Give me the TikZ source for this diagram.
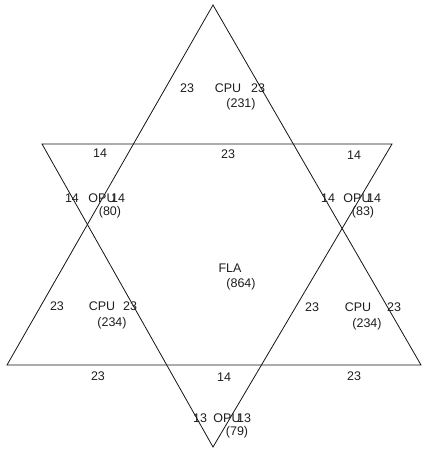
\documentclass[tikz,border=0pt]{standalone}
\usepackage{fontspec}
\setmainfont{Liberation Sans}
\usepackage{xcolor}
\usepackage{tikz}
\usetikzlibrary{positioning}
\definecolor{stedge}{RGB}{20,20,20}
\definecolor{stink}{RGB}{30,30,30}
\tikzset{
  tri/.style={draw=stedge, line width=0.8pt, line join=miter},
  lbl/.style={inner sep=0pt, text=stink, font=\fontsize{12.5}{14}\selectfont},
  every picture/.append style={x=1pt, y=-1pt}
}

\begin{document}
\begin{tikzpicture}
  \useasboundingbox (0,0) rectangle (422,449);
  % corners of the two triangles
  \coordinate (upTop) at (213,5);
  \coordinate (upLeft) at (7,365);
  \coordinate (upRight) at (421,365);
  \coordinate (dnLeft) at (42,144);
  \coordinate (dnRight) at (392,144);
  \coordinate (dnBot) at (213,447);
  \draw[tri] (upTop) -- (upLeft) -- (upRight) -- cycle;
  \draw[tri] (dnLeft) -- (dnRight) -- (dnBot) -- cycle;

  % top point
  \node[lbl] (topW) at (187,88) {23};
  \node[lbl] (topName) at (228,88) {CPU};
  \node[lbl] (topE) at (258,88) {23};
  \node[lbl] (topVal) at (241,104) {(231)};

  % upper edge
  \node[lbl] (edgeTL) at (100,153) {14};
  \node[lbl] (edgeTM) at (228,154) {23};
  \node[lbl] (edgeTR) at (354,155) {14};

  % left point
  \node[lbl] (leftW) at (72,198) {14};
  \node[lbl] (leftName) at (102,198) {OPU};
  \node[lbl] (leftE) at (118,198) {14};
  \node[lbl] (leftVal) at (110,212) {(80)};

  % right point
  \node[lbl] (rightW) at (328,198) {14};
  \node[lbl] (rightName) at (357,198) {OPU};
  \node[lbl] (rightE) at (374,198) {14};
  \node[lbl] (rightVal) at (363,212) {(83)};

  % centre
  \node[lbl] (midName) at (230,268) {FLA};
  \node[lbl] (midVal) at (241,284) {(864)};

  % lower left point
  \node[lbl] (lowLW) at (57,306) {23};
  \node[lbl] (lowLName) at (102,306) {CPU};
  \node[lbl] (lowLE) at (130,306) {23};
  \node[lbl] (lowLVal) at (112,323) {(234)};

  % lower right point
  \node[lbl] (lowRW) at (312,307) {23};
  \node[lbl] (lowRName) at (358,307) {CPU};
  \node[lbl] (lowRE) at (394,307) {23};
  \node[lbl] (lowRVal) at (367,324) {(234)};

  % lower edge
  \node[lbl] (edgeBL) at (98,376) {23};
  \node[lbl] (edgeBM) at (224,377) {14};
  \node[lbl] (edgeBR) at (354,376) {23};

  % bottom point
  \node[lbl] (botW) at (200,418) {13};
  \node[lbl] (botName) at (227,418) {OPU};
  \node[lbl] (botE) at (244,418) {13};
  \node[lbl] (botVal) at (237,432) {(79)};
\end{tikzpicture}
\end{document}
